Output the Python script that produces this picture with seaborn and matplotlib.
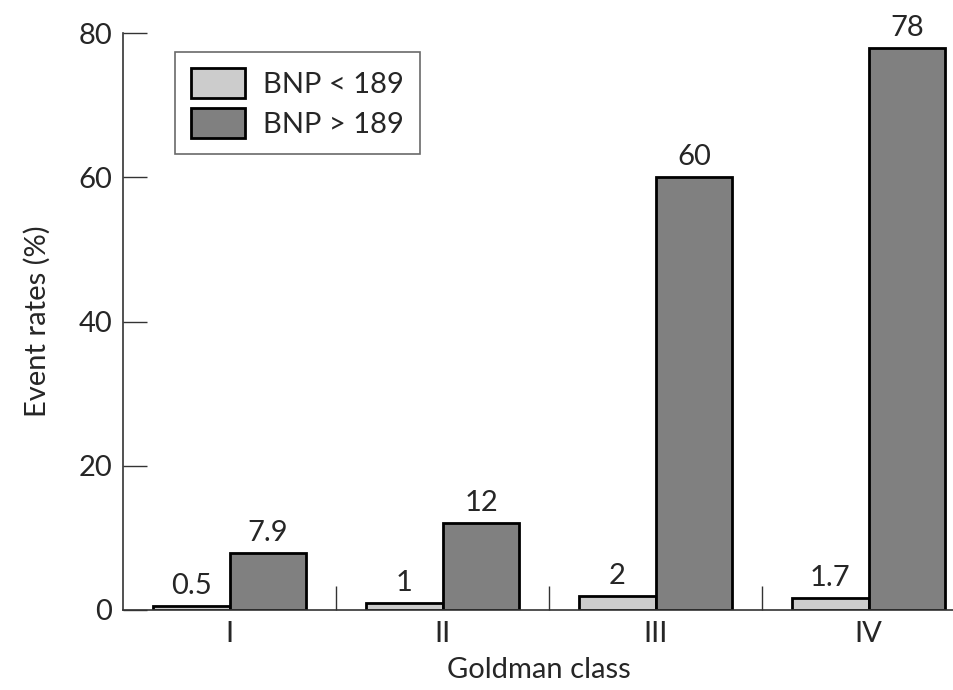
import matplotlib
matplotlib.use("Agg")
import matplotlib.pyplot as plt
import seaborn as sns
import pandas as pd

classes = ["I", "II", "III", "IV"]
low_bnp = [0.5, 1, 2, 1.7]
high_bnp = [7.9, 12, 60, 78]
low_labels = ["0.5", "1", "2", "1.7"]
high_labels = ["7.9", "12", "60", "78"]
series = ["BNP < 189", "BNP > 189"]

df = pd.DataFrame({
    "cls": classes * 2,
    "rate": low_bnp + high_bnp,
    "group": [series[0]] * 4 + [series[1]] * 4,
})

sns.set_style("white")
plt.rcParams["font.family"] = ["Lato", "DejaVu Sans"]
fs = 21

fig = plt.figure(figsize=(9.54, 6.9), dpi=100)
ax = fig.add_axes([0.129, 0.116, 0.871, 0.836])

sns.barplot(data=df, x="cls", y="rate", hue="group", order=classes,
            hue_order=series, palette=["#cccccc", "#808080"],
            width=0.72, edgecolor="black", linewidth=2, saturation=1, ax=ax)

for cont, labs in zip(ax.containers, [low_labels, high_labels]):
    ax.bar_label(cont, labels=labs, padding=5, fontsize=fs)

ax.set_ylim(0, 80)
ax.set_xlim(-0.5, 3.4)
ax.set_yticks([0, 20, 40, 60, 80])
ax.set_xticks([0.5, 1.5, 2.5], minor=True)
ax.tick_params(axis="y", direction="in", length=17, width=1, labelsize=fs,
               left=True, color="#333333", pad=8)
ax.tick_params(axis="x", which="major", length=0, labelsize=fs, pad=8)
ax.tick_params(axis="x", which="minor", direction="in", length=17, width=1,
               bottom=True, color="#333333")
for s in ["top", "right"]:
    ax.spines[s].set_visible(False)
for s in ["left", "bottom"]:
    ax.spines[s].set_color("#333333")
    ax.spines[s].set_linewidth(1.2)

ax.set_xlabel("Goldman class", fontsize=fs, labelpad=7)
ax.set_ylabel("Event rates (%)", fontsize=fs, labelpad=20)

leg = ax.legend(loc="upper left", bbox_to_anchor=(0.063, 0.967), fontsize=fs,
                frameon=True, fancybox=False, edgecolor="#444444",
                borderaxespad=0, handlelength=1.85, handleheight=1.2,
                borderpad=0.55, labelspacing=0.35, handletextpad=0.6)
leg.get_frame().set_linewidth(1.2)

fig.savefig("out.png", dpi=100)
